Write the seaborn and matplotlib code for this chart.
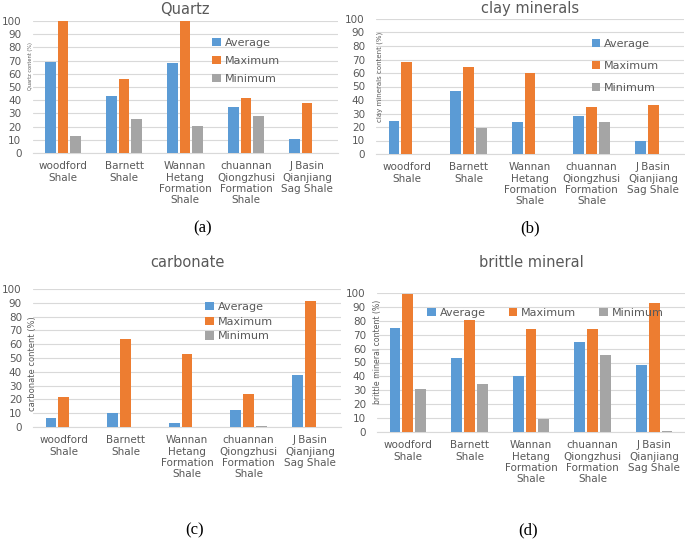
import matplotlib
matplotlib.use("Agg")
import matplotlib.pyplot as plt
import seaborn as sns
import pandas as pd
from matplotlib.patches import Patch

sns.set_theme(style="white")
plt.rcParams['font.family'] = ['DejaVu Sans']

categories = ["woodford\nShale", "Barnett\nShale", "Wannan\nHetang\nFormation\nShale",
              "chuannan\nQiongzhusi\nFormation\nShale", "J Basin\nQianjiang\nSag Shale"]
stats = ["Average", "Maximum", "Minimum"]

quartz_avg = [69, 43, 68, 35, 10.5]
quartz_max = [100, 56, 100, 42, 38]
quartz_min = [13, 25.5, 20.5, 28, 0]
clay_avg = [24.5, 46.5, 23.5, 28, 10]
clay_max = [68.5, 64.5, 60, 35, 36]
clay_min = [0, 19.5, 0, 24, 0]
carb_avg = [6.5, 10.5, 3, 12.5, 38]
carb_max = [22, 63.5, 53, 24, 91]
carb_min = [0, 0, 0, 1, 0]
brit_avg = [75, 53, 40, 64.5, 48]
brit_max = [99.5, 80.5, 74, 74, 92.5]
brit_min = [31, 34.5, 9, 55.5, 0.8]

colors = ["#5B9BD5", "#ED7D31", "#A5A5A5"]
text_gray = "#595959"

panels = [
    dict(title="Quartz", ylabel="Quartz content (%)", data=(quartz_avg, quartz_max, quartz_min),
         rect=[32.5, 153, 305, 132], tag="(a)", tagxy=(203, 228), ylab_xy=(-0.005, 0.66), ylab_fs=3.6,
         leg=dict(ncol=1, anchor=(0.59, 0.875), spacing=0.72), title_y=13.5),
    dict(title="clay minerals", ylabel="clay minerals content (%)", data=(clay_avg, clay_max, clay_min),
         rect=[376, 154, 308, 135], tag="(b)", tagxy=(530, 228), ylab_xy=(0.013, 0.57), ylab_fs=5.0,
         leg=dict(ncol=1, anchor=(0.70, 0.855), spacing=1.1), title_y=12.5),
    dict(title="carbonate", ylabel="carbonate content (%)", data=(carb_avg, carb_max, carb_min),
         rect=[33, 427, 308, 138], tag="(c)", tagxy=(195, 530), ylab_xy=(0.0, 0.457), ylab_fs=6.0,
         leg=dict(ncol=1, anchor=(0.56, 0.905), spacing=0.42), title_y=267),
    dict(title="brittle mineral", ylabel="brittle mineral content (%)", data=(brit_avg, brit_max, brit_min),
         rect=[377, 432, 308, 139], tag="(d)", tagxy=(528, 530), ylab_xy=(0.003, 0.575), ylab_fs=5.6,
         leg=dict(ncol=3, anchor=(0.163, 0.89), spacing=0.3), title_y=267),
]

W, H = 685, 539
fig = plt.figure(figsize=(W / 100, H / 100), dpi=100)

for p in panels:
    x0, ybot, w, h = p["rect"]
    ax = fig.add_axes([x0 / W, 1 - ybot / H, w / W, h / H])
    avg, mx, mn = p["data"]
    df = pd.DataFrame({
        "cat": categories * 3,
        "stat": [s for s in stats for _ in categories],
        "val": list(avg) + list(mx) + list(mn),
    })
    sns.barplot(data=df, x="cat", y="val", hue="stat", hue_order=stats, palette=colors,
                saturation=1, width=0.62, gap=0.15, linewidth=0, legend=False, ax=ax, zorder=3)
    ax.set_ylim(0, 100)
    ax.set_xlim(-0.5, 4.5)
    ax.set_yticks(range(0, 101, 10))
    ax.yaxis.grid(True, color="#D9D9D9", linewidth=0.8, zorder=0)
    ax.set_axisbelow(True)
    for s in ["top", "right", "left"]:
        ax.spines[s].set_visible(False)
    ax.spines["bottom"].set_color("#D9D9D9")
    ax.spines["bottom"].set_linewidth(0.8)
    ax.tick_params(axis="both", length=0, labelsize=7.5, colors=text_gray)
    ax.tick_params(axis="y", pad=8)
    ax.tick_params(axis="x", pad=6)
    for lab in ax.get_xticklabels():
        lab.set_linespacing(1.15)
    ax.set_xlabel("")
    ax.set_ylabel("")
    ax.text(p["ylab_xy"][0], p["ylab_xy"][1], p["ylabel"], rotation=90, transform=ax.transAxes,
            ha="center", va="center", fontsize=p["ylab_fs"], color=text_gray)
    fig.text((x0 + w / 2) / W, 1 - p["title_y"] / H, p["title"], ha="center", va="baseline",
             fontsize=10.5, color=text_gray)
    fig.text(p["tagxy"][0] / W, 1 - p["tagxy"][1] / H, p["tag"], ha="center", va="center",
             fontsize=12, family="Liberation Serif", color="black")
    handles = [Patch(facecolor=c, edgecolor="none", label=s) for c, s in zip(colors, stats)]
    lg = p["leg"]
    leg = ax.legend(handles=handles, loc="upper left", bbox_to_anchor=lg["anchor"], ncol=lg["ncol"],
                    frameon=False, fontsize=8, handlelength=0.75, handleheight=0.75,
                    handletextpad=0.35, labelspacing=lg["spacing"], columnspacing=2.1, borderpad=0,
                    borderaxespad=0)
    for t in leg.get_texts():
        t.set_color(text_gray)

fig.savefig("out.png", dpi=100)
